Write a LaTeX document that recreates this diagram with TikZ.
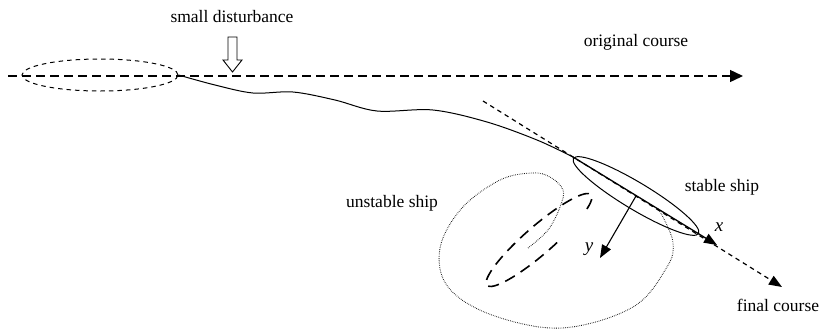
\documentclass[tikz,border=0pt]{standalone}
\usepackage{fontspec}
\setmainfont{Liberation Serif}
\newfontfamily\lblfont{Liberation Serif}
\usetikzlibrary{arrows.meta,shapes.geometric}
\tikzset{
  lbl/.style={inner sep=0pt, font=\lblfont\fontsize{17.5}{20}\selectfont},
  axlbl/.style={inner sep=0pt, font=\lblfont\fontsize{19}{22}\selectfont\itshape},
  longdash/.style={line width=1.4pt, dash pattern=on 9pt off 5pt},
  shortdash/.style={line width=1.2pt, dash pattern=on 4.5pt off 4pt},
  shipdash/.style={line width=1.6pt, dash pattern=on 11pt off 7pt},
  fine/.style={line width=0.9pt, dash pattern=on 0.6pt off 1.2pt},
  traj/.style={line width=1pt},
  tip/.style={-{Triangle[length=13pt,width=10pt]}},
  bigtip/.style={-{Triangle[length=13pt,width=12pt]}},
}
\begin{document}
\begin{tikzpicture}[x=1pt,y=-1pt]
\path[use as bounding box] (0,0) rectangle (822,330);

% labels
\node[lbl] (dist) at (232,17) {small disturbance};
\node[lbl] (orig) at (636,42) {original course};
\node[lbl] (unst) at (392,203) {unstable ship};
\node[lbl] (stab) at (722,187) {stable ship};
\node[lbl] (fin) at (778,305) {final course};
\node[axlbl] (xl) at (719,227) {x};
\node[axlbl] (yl) at (589,249) {y};

% original course
\coordinate (L0) at (8,76);
\coordinate (L1) at (743,76);
\draw[longdash, bigtip] (L0) -- (L1);

% initial ship
\node[draw, ellipse, shortdash, line width=1pt, minimum width=156pt, minimum height=32pt, inner sep=0pt] (ship0) at (100,75) {};

% disturbance arrow
\draw[line width=0.9pt] (228,37) -- (237,37) -- (237,60) -- (242,60) -- (232.5,72) -- (223,60) -- (228,60) -- cycle;

% trajectory
\coordinate (T) at (573,157);
\draw[traj] plot[smooth, tension=0.55] coordinates {(ship0.east) (215,85) (253,93) (293,92) (335,100) (377,111) (433,110) (487,122) (537,140) (T)};

% tangent / final course
\coordinate (D0) at (483,101);
\coordinate (F1) at (782,287);
\draw[shortdash, tip] (D0) -- (F1);

% stable ship
\node[draw, ellipse, line width=1pt, rotate=-31, minimum width=146pt, minimum height=27pt, inner sep=0pt] (stable) at (636,196) {};
\coordinate (X1) at (717,245);
\draw[line width=1.3pt, tip] (T) -- (X1);
\coordinate (Y1) at (600,258);
\draw[line width=1.1pt, tip] (stable.center) -- (Y1);

% unstable ship (dashed, open)
\begin{scope}[shift={(539,240)}, rotate=41]
  \draw[shipdash] (-35:69pt and 14pt) arc[start angle=-35, end angle=285, x radius=69pt, y radius=14pt];
\end{scope}

% turning path (dotted)
\draw[fine] plot[smooth, tension=0.6] coordinates {(528,248) (548,230) (560,207) (563,190) (550,177) (532,173) (500,180) (462,208) (440,248) (448,287) (492,315) (562,328) (633,307) (667,267) (673,243) (663,217) (657,208)};
\end{tikzpicture}
\end{document}
